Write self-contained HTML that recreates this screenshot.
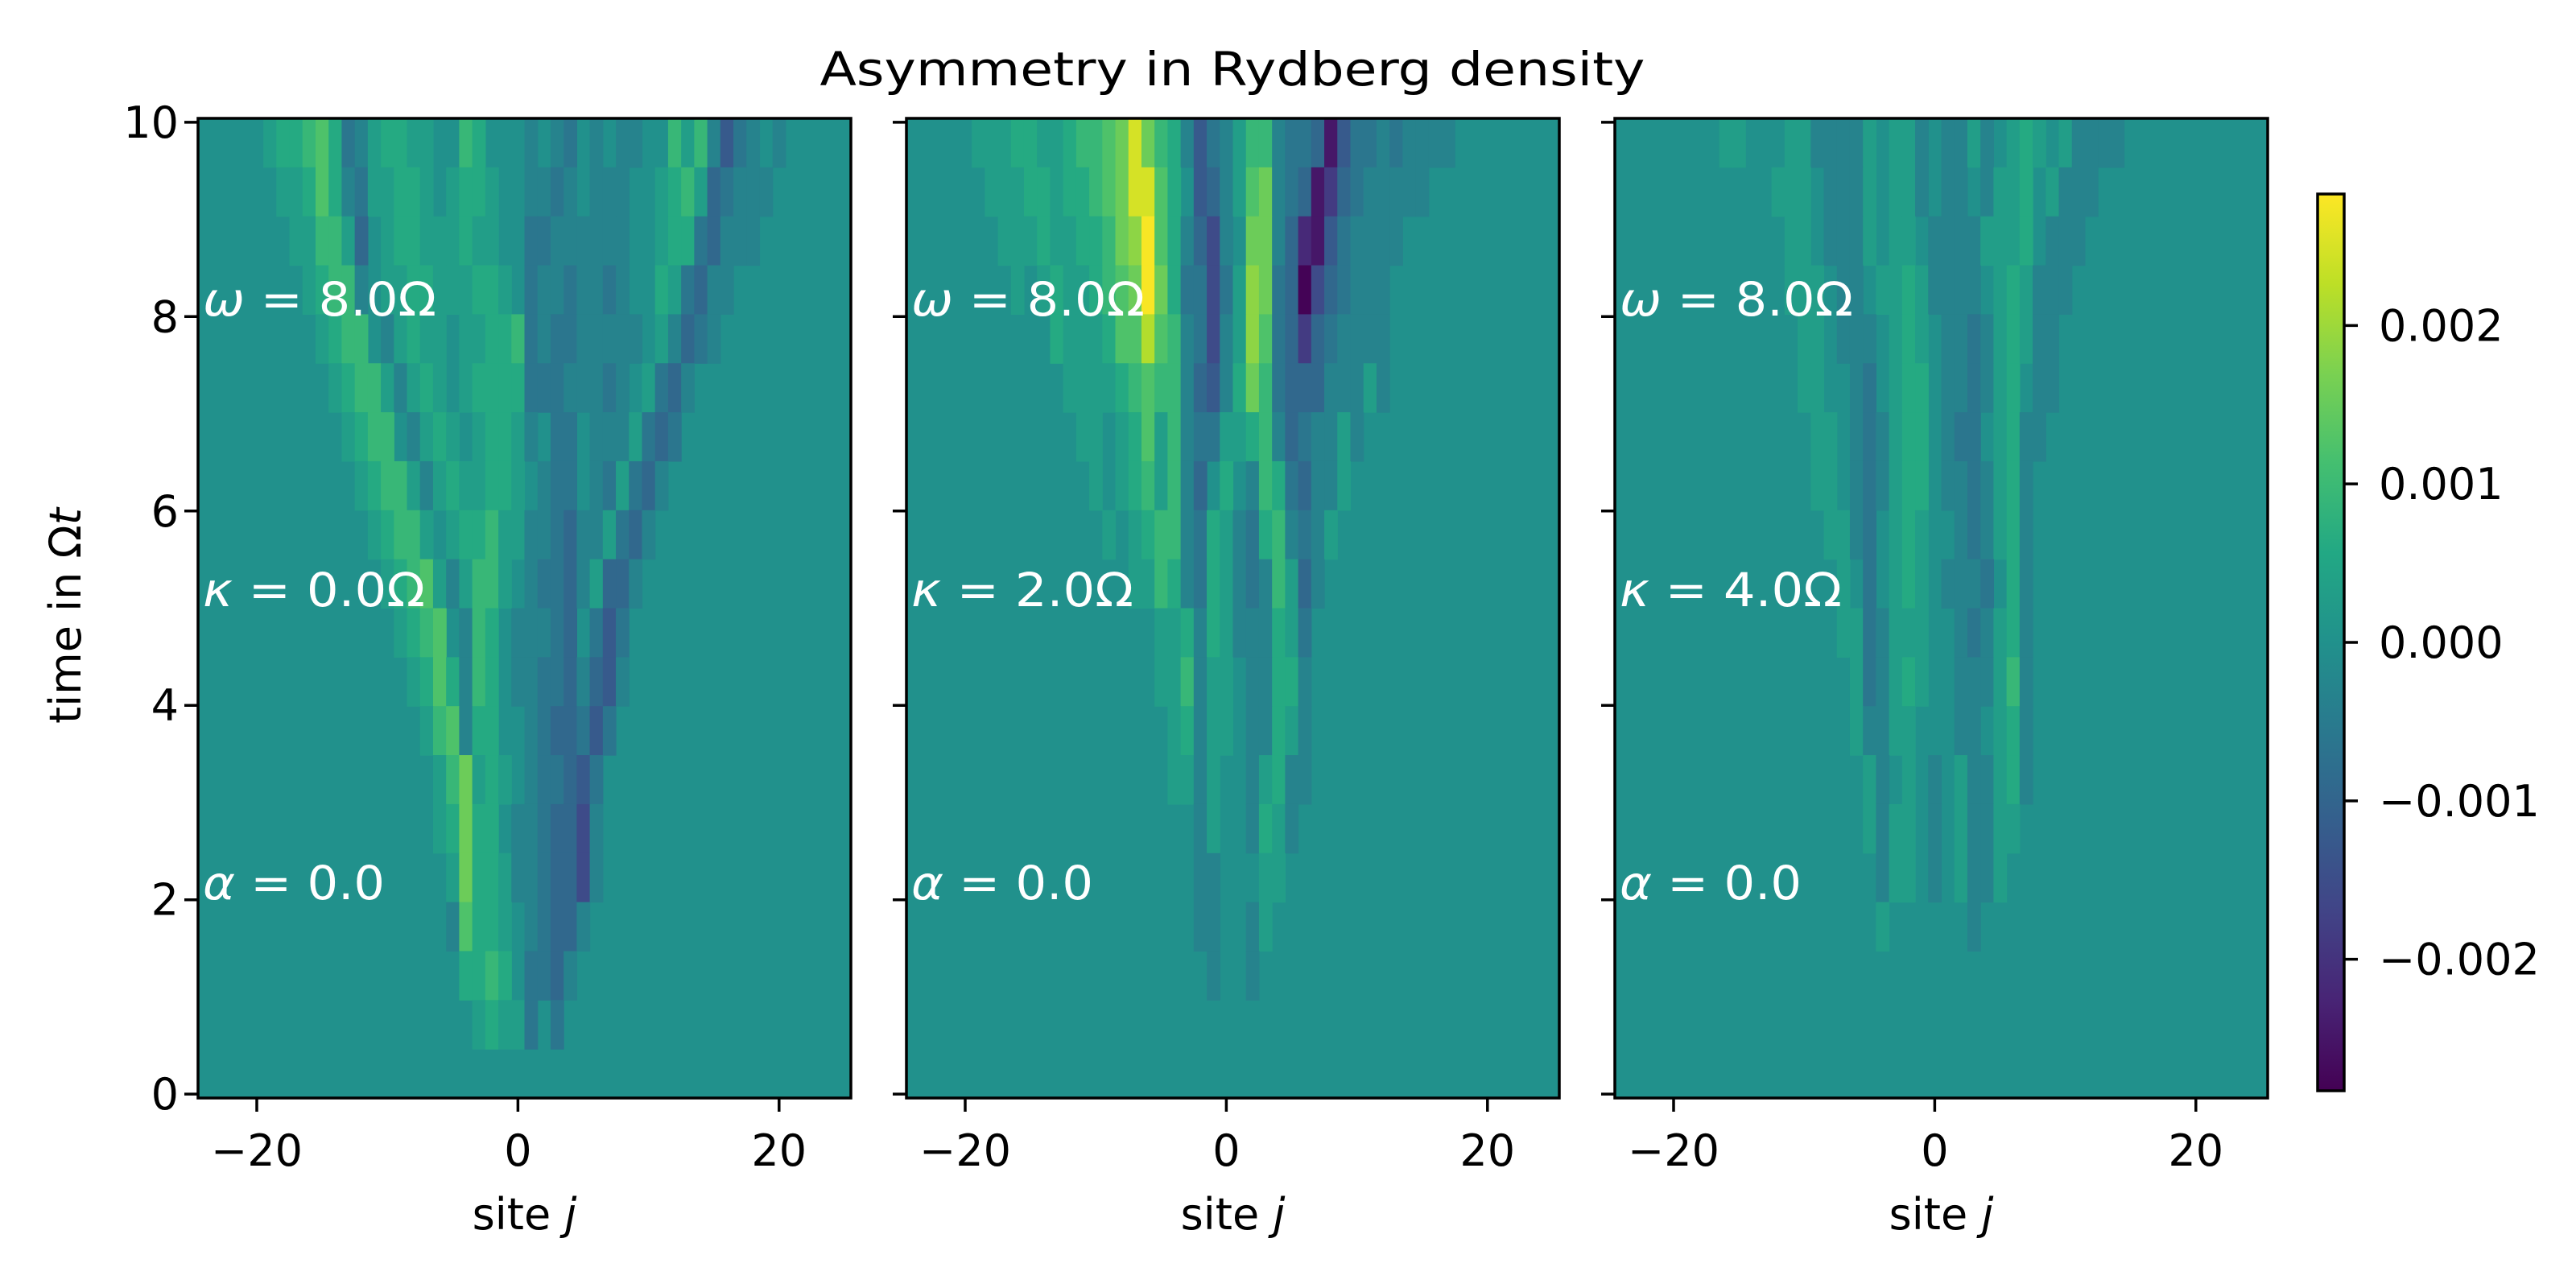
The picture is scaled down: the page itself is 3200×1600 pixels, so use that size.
<!DOCTYPE html>
<html><head><meta charset="utf-8"><title>Asymmetry in Rydberg density</title>
<style>html,body{margin:0;padding:0;background:#fff;}svg{display:block;}</style></head>
<body>
<svg id="fig" xmlns="http://www.w3.org/2000/svg" width="3200" height="1600" viewBox="0 0 3200 1600" font-family="DejaVu Sans, Liberation Sans, sans-serif"></svg>
<script>
// ---- data ----
const siteMin = -24, siteMax = 25;
const xTicks = [-20, 0, 20];
const yTicks = [0, 2, 4, 6, 8, 10];
const cbTicks = [0.002, 0.001, 0, -0.001, -0.002];
const cbTickLabels = ["0.002", "0.001", "0.000", "\u22120.001", "\u22120.002"];
const kappaLabels = ["0.0", "2.0", "4.0"];
const levelUnit = 0.00031;
const vMin = -0.00283, vMax = 0.00283;
// rows top (t~10) to bottom (t~0); "col:level" pairs, col 0 = site -24
const panel1Rows = [
"5:1,6:2,7:2,8:3,9:4,10:2,11:-2,12:-1,13:1,14:2,15:2,16:1,17:1,20:3,21:2,25:-1,27:-1,28:-2,30:-1,32:-1,33:-1,36:3,37:1,38:3,39:-1,40:-4,41:-2,42:-1,44:-1",
"6:1,7:1,8:2,9:4,10:2,11:-1,12:-2,13:1,14:1,15:2,16:2,17:1,19:1,20:2,21:2,22:1,25:-1,26:-1,27:-2,28:-1,30:-1,31:-1,32:-1,35:1,36:2,37:3,38:1,39:-3,40:-2,41:-1,42:-1,43:-1",
"7:1,8:1,9:3,10:3,11:1,12:-3,14:1,15:2,16:2,17:1,18:1,19:1,20:2,21:1,22:1,25:-2,26:-2,27:-1,28:-1,29:-1,30:-1,31:-1,32:-1,35:1,36:2,37:2,38:-2,39:-3,40:-1,41:-1,42:-1",
"8:1,9:2,10:3,11:3,12:-1,14:1,15:1,16:2,17:2,18:1,19:1,20:1,21:2,22:2,23:1,25:-2,26:-1,27:-1,28:-2,29:-1,30:-1,31:-2,32:-1,35:2,36:1,37:-2,38:-3,39:-1,40:-1",
"9:1,10:2,11:3,12:3,14:-1,15:1,16:2,17:1,18:1,20:1,21:1,22:2,23:2,24:3,25:-2,26:-1,27:-2,28:-2,29:-1,30:-1,31:-1,32:-1,33:-1,35:1,36:-1,37:-3,38:-2,39:-1",
"10:1,11:2,12:3,13:3,14:1,15:-1,16:1,17:2,18:1,20:1,21:2,22:2,23:2,24:2,25:-2,26:-2,27:-2,28:-1,29:-1,30:-1,31:-2,32:-1,34:1,35:-2,36:-3,37:-1",
"11:1,12:2,13:3,14:3,16:-1,17:1,18:2,19:1,21:1,22:2,23:2,24:1,25:-1,27:-2,28:-2,30:-1,31:-1,32:-1,33:1,34:-2,35:-3,36:-2",
"12:1,13:2,14:3,15:3,16:1,17:-1,18:1,19:2,20:1,21:1,22:2,23:2,24:1,26:-1,27:-2,28:-2,30:-1,31:-2,32:1,33:-2,34:-3,35:-1",
"13:1,14:2,15:3,16:3,17:1,19:1,20:2,21:2,22:3,23:1,24:1,25:-1,26:-1,27:-2,28:-3,29:-1,30:-1,31:1,32:-2,33:-3,34:-1",
"14:1,15:2,16:3,17:4,18:1,19:-1,20:1,21:3,22:3,23:1,25:-1,26:-2,27:-2,28:-3,29:-1,30:1,31:-3,32:-3,33:-1",
"15:1,16:2,17:3,18:4,20:-1,21:3,22:2,24:-1,25:-1,26:-1,27:-2,28:-3,30:-2,31:-4,32:-2",
"16:1,17:2,18:4,19:2,20:-1,21:3,22:2,24:-1,25:-1,26:-2,27:-2,28:-3,29:-1,30:-3,31:-4,32:-1",
"17:1,18:3,19:4,20:-1,21:2,22:2,25:-1,26:-2,27:-3,28:-3,29:-2,30:-4,31:-2",
"18:1,19:3,20:5,21:1,22:2,23:1,25:-1,26:-2,27:-2,28:-3,29:-4,30:-2",
"18:1,19:2,20:5,21:2,22:2,24:-1,25:-1,26:-2,27:-3,28:-3,29:-5,30:-1",
"19:1,20:5,21:2,22:2,23:1,24:-1,25:-1,26:-2,27:-3,28:-3,29:-5,30:-1",
"19:-1,20:4,21:2,22:2,23:1,25:-1,26:-2,27:-3,28:-3,29:-1",
"20:2,21:2,22:3,23:2,25:-2,26:-2,27:-3,28:-1",
"21:1,22:2,23:1,24:1,25:-2,27:-2",
""
];
const panel2Rows = [
"5:1,6:1,7:1,8:2,9:2,10:1,11:1,12:2,13:3,14:3,15:4,16:5,17:8,18:5,19:3,20:2,21:-1,22:-4,23:-2,24:-1,25:1,26:3,27:3,28:-1,29:-2,30:-2,31:-3,32:-8,33:-4,34:-2,35:-2,36:-1,37:-2,38:-1,39:-1,40:-1,41:-1",
"6:1,7:1,8:1,9:2,10:2,11:1,12:2,13:2,14:3,15:4,16:5,17:8,18:8,19:4,20:2,22:-4,23:-3,24:-1,25:1,26:4,27:5,28:-1,29:-2,30:-3,31:-8,32:-6,33:-3,34:-2,35:-1,36:-1,37:-1,38:-1,39:-1",
"7:1,8:1,9:1,10:2,11:1,12:1,13:2,14:2,15:3,16:5,17:6,18:9,19:4,20:2,21:-1,22:-3,23:-5,24:-1,26:5,27:5,28:-1,29:-3,30:-7,31:-8,32:-4,33:-2,34:-1,35:-1,36:-1,37:-1",
"8:1,10:1,11:2,12:1,13:1,14:2,15:3,16:4,17:5,18:9,19:5,20:2,21:-2,22:-2,23:-5,24:-2,25:1,26:6,27:5,28:-2,29:-3,30:-9,31:-5,32:-3,33:-2,34:-1,35:-1,36:-1",
"11:2,12:1,13:1,14:1,15:2,16:4,17:4,18:7,19:4,20:3,21:-1,22:-2,23:-5,24:-1,25:1,26:6,27:4,28:-2,29:-3,30:-6,31:-3,32:-2,33:-1,34:-1,35:-1,36:-1",
"12:1,13:1,14:1,15:1,16:2,17:3,18:4,19:3,20:3,21:-1,22:-3,23:-4,24:-1,25:2,26:5,27:3,28:-2,29:-3,30:-3,31:-3,32:-1,33:-1,34:-1,35:1,36:-1",
"13:1,14:1,16:1,17:2,18:4,19:1,20:3,21:-1,22:-2,23:-2,24:1,25:1,26:2,27:3,28:-1,29:-3,30:-2,31:-1,32:-1,33:1,34:-1",
"14:1,16:1,17:2,18:3,19:1,20:3,21:-1,22:-3,24:2,26:-1,27:3,28:2,29:-2,30:-3,31:-1,32:-1,33:1",
"15:1,17:1,18:2,19:3,20:3,21:-1,22:-2,23:2,24:1,25:-1,26:-2,27:2,28:3,29:-1,30:-2,31:-1,32:1",
"17:1,18:1,19:3,20:2,21:-1,22:-2,23:2,24:1,25:-1,26:-2,27:-1,28:3,29:1,30:-3,31:-1",
"19:1,20:1,21:2,22:-1,23:2,24:1,25:-1,26:-1,27:-1,28:2,29:1,30:-2",
"19:1,20:1,21:3,22:-1,23:1,24:1,26:-1,27:-1,28:2,29:2,30:-1",
"20:1,21:2,22:-1,23:1,24:1,26:-1,27:-1,28:2,29:1,30:-1",
"20:1,21:1,22:-1,23:1,26:-1,27:1,28:2,29:-1,30:-1",
"22:-1,23:1,26:-1,27:2,28:1,29:-1",
"22:-1,23:-1,27:1,28:1",
"22:-1,23:-1,26:-1,27:1",
"23:-1,26:-1",
"",
""
];
const panel3Rows = [
"8:1,9:1,13:1,14:1,15:-1,16:-1,17:-1,18:-1,19:1,21:1,22:1,23:-1,25:-1,26:-1,27:1,28:-1,30:1,31:2,32:1,34:1,35:-1,36:-1,37:-1,38:-1",
"12:1,13:1,14:1,16:-1,17:-1,18:-1,19:1,21:1,22:1,23:-1,25:-1,26:-1,28:-1,29:1,30:1,31:2,33:1,34:-1,35:-1,36:-1",
"13:1,14:1,16:-1,17:-1,18:-1,19:1,21:1,22:1,24:-1,25:-1,26:-1,27:-1,28:1,29:1,30:1,31:2,33:-1,34:-1,35:-1",
"13:1,14:1,15:1,17:-1,18:-1,20:1,21:1,22:2,23:1,24:-1,25:-1,26:-1,27:-1,29:1,30:2,31:1,32:-1,33:-1,34:-1",
"14:1,15:1,17:-1,18:-1,19:-1,21:1,22:2,23:1,25:-1,26:-1,27:-2,28:-1,29:1,30:2,31:1,32:-1,33:-1",
"14:1,15:1,18:-1,19:-2,21:1,22:2,23:2,25:-1,26:-1,27:-2,28:-1,29:1,30:2,32:-1,33:-1",
"15:1,16:1,18:-1,19:-2,20:-1,21:1,22:2,23:2,25:-1,26:-2,27:-2,29:1,30:2,31:-1,32:-1",
"15:1,16:1,18:-1,19:-2,20:-1,21:1,22:2,23:2,25:-1,26:-1,27:-2,28:-1,29:1,30:2,31:-1",
"16:1,17:1,18:-1,19:-2,21:1,22:2,23:1,26:-1,27:-2,28:-1,29:1,30:2,31:-1",
"17:1,19:-2,21:1,22:2,23:1,25:-1,26:-1,27:-1,28:-2,30:2,31:-1",
"17:1,18:1,19:-2,20:-1,21:1,22:1,23:1,26:-1,27:-2,28:-1,29:1,30:2,31:-1",
"18:1,19:-2,20:-1,21:1,22:2,23:1,26:-1,27:-1,28:-1,29:1,30:3,31:-1",
"18:1,19:-1,20:-1,21:1,22:1,26:-1,27:-1,29:1,30:2,31:-1",
"19:1,20:-1,22:1,24:-1,26:1,27:-1,28:-1,29:1,30:2,31:-1",
"19:1,20:-1,21:1,22:1,24:-1,26:1,27:-1,28:-1,29:1,30:1",
"20:-1,21:1,22:1,24:-1,26:1,27:-1,28:-1,29:1",
"20:1,27:-1",
"",
"",
""
];
const panels = [panel1Rows, panel2Rows, panel3Rows];

// ---- layout ----
const NS = "http://www.w3.org/2000/svg";
const svg = document.getElementById('fig');
const panelLeft0 = 246, panelPitch = 880, panelW = 811;
const plotTop = 147, plotBottom = 1364;
const tLo = -0.04, tHi = 10.04;
function xScale(p, s) { return panelLeft0 + p * panelPitch + (s - (siteMin - 0.5)) / ((siteMax + 0.5) - (siteMin - 0.5)) * panelW; }
function yScale(t) { return plotBottom - (t - tLo) / (tHi - tLo) * (plotBottom - plotTop); }
const viridis = ["#440154","#482475","#414487","#355f8d","#2a788e","#21918c","#22a884","#44bf70","#7ad151","#bddf26","#fde725"];
function hex(c){return [parseInt(c.slice(1,3),16),parseInt(c.slice(3,5),16),parseInt(c.slice(5,7),16)];}
function cmap(v) {
  let f = (v - vMin) / (vMax - vMin); f = Math.max(0, Math.min(1, f));
  const k = f * 10, i = Math.min(9, Math.floor(k)), u = k - i;
  const a = hex(viridis[i]), b = hex(viridis[i + 1]);
  return `rgb(${Math.round(a[0]+(b[0]-a[0])*u)},${Math.round(a[1]+(b[1]-a[1])*u)},${Math.round(a[2]+(b[2]-a[2])*u)})`;
}
function el(tag, attrs, parent) { const e = document.createElementNS(NS, tag); for (const k in attrs) e.setAttribute(k, attrs[k]); (parent || svg).appendChild(e); return e; }
function txt(str, attrs, parent) { const e = el('text', attrs, parent); e.textContent = str; return e; }

// title
const title = txt("Asymmetry in Rydberg density", {x: 1531, y: 106, 'font-size': 58, 'text-anchor': 'middle', textLength: 1025, lengthAdjust: 'spacingAndGlyphs', fill: '#000'});



panels.forEach((rows, p) => {
  const g = el('g', {});
  
  
  const L = xScale(p, siteMin - 0.5), R = xScale(p, siteMax + 0.5);
  const bg = el('rect', {x: L, y: plotTop, width: R - L, height: plotBottom - plotTop, fill: cmap(0)}, g);
  
  
  const nRows = rows.length, dt = (tHi - tLo) / nRows;
  rows.forEach((row, r) => {
    if (!row) return;
    const t1 = tHi - r * dt, t0 = t1 - dt;
    row.split(',').forEach(pair => {
      const [c, lv] = pair.split(':').map(Number);
      const s = siteMin + c;
      const cell = el('rect', {x: xScale(p, s - 0.5), y: yScale(t1), width: xScale(p, s + 0.5) - xScale(p, s - 0.5) + 0.6, height: yScale(t0) - yScale(t1) + 0.6, fill: cmap(lv * levelUnit)}, g);
      
      
    });
  });
  // annotations
  const a1 = txt("", {x: L + 6, y: 392, 'font-size': 58, fill: '#fff', textLength: 290, lengthAdjust: 'spacingAndGlyphs'}, g);
  a1.innerHTML = '<tspan font-style="italic">ω</tspan> = 8.0Ω';
  
  
  const a2 = txt("", {x: L + 6, y: 753, 'font-size': 58, fill: '#fff', textLength: 276, lengthAdjust: 'spacingAndGlyphs'}, g);
  a2.innerHTML = '<tspan font-style="italic">κ</tspan> = ' + kappaLabels[p] + 'Ω';
  
  
  const a3 = txt("", {x: L + 6, y: 1117, 'font-size': 58, fill: '#fff', textLength: 226, lengthAdjust: 'spacingAndGlyphs'}, g);
  a3.innerHTML = '<tspan font-style="italic">α</tspan> = 0.0';
  
  
  // frame
  const fr = el('rect', {x: L, y: plotTop, width: R - L, height: plotBottom - plotTop, fill: 'none', stroke: '#000', 'stroke-width': 3.5}, g);
  
  
  // x ticks
  xTicks.forEach(v => {
    const x = xScale(p, v);
    const tk = el('line', {x1: x, x2: x, y1: plotBottom, y2: plotBottom + 17, stroke: '#000', 'stroke-width': 3.5}, g);
    
    
    const lb = txt(v < 0 ? '\u2212' + Math.abs(v) : String(v), {x: x, y: 1448, 'font-size': 54, 'text-anchor': 'middle', fill: '#000'}, g);
    
    
  });
  const xl = txt("", {x: (L + R) / 2, y: 1527, 'font-size': 54, 'text-anchor': 'middle', fill: '#000'}, g);
  xl.innerHTML = 'site <tspan font-style="italic">j</tspan>';
  
  
  // y ticks
  yTicks.forEach(v => {
    const y = yScale(v);
    const tk = el('line', {x1: L - 17, x2: L, y1: y, y2: y, stroke: '#000', 'stroke-width': 3.5}, g);
    
    
    if (p === 0) {
      const lb = txt(String(v), {x: L - 24, y: y + 19, 'font-size': 54, 'text-anchor': 'end', fill: '#000'}, g);
      
      
    }
  });
});

// y-axis title
const yl = txt("", {x: 0, y: 0, 'font-size': 54, 'text-anchor': 'middle', fill: '#000', transform: 'translate(100,765) rotate(-90)'});
yl.innerHTML = 'time in Ω<tspan font-style="italic">t</tspan>';



// colorbar
const cbL = 2879, cbR = 2912, cbTop = 241, cbBot = 1355;
function cbY(v) { return cbBot - (v - vMin) / (vMax - vMin) * (cbBot - cbTop); }
const defs = el('defs', {});
const grad = el('linearGradient', {id: 'vir', x1: 0, y1: 1, x2: 0, y2: 0}, defs);
viridis.forEach((c, i) => el('stop', {offset: (i / 10), 'stop-color': c}, grad));
const cb = el('rect', {x: cbL, y: cbTop, width: cbR - cbL, height: cbBot - cbTop, fill: 'url(#vir)', stroke: '#000', 'stroke-width': 3.5});


cbTicks.forEach((v, i) => {
  const y = cbY(v);
  const tk = el('line', {x1: cbR, x2: cbR + 17, y1: y, y2: y, stroke: '#000', 'stroke-width': 3.5});
  
  
  const lb = txt(cbTickLabels[i], {x: 2955, y: y + 19, 'font-size': 54, fill: '#000'});
  
  
});
</script>
</body></html>
